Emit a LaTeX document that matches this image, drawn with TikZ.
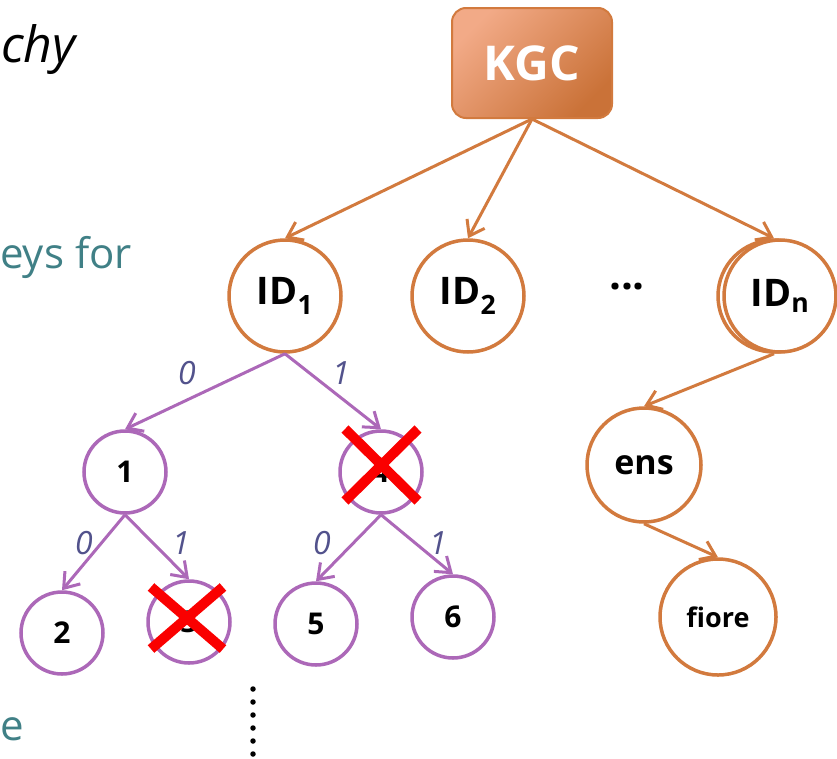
\documentclass[tikz,border=0pt]{standalone}
\usepackage{fontspec}
\setmainfont{Open Sans}
\usetikzlibrary{arrows.meta,calc}
\definecolor{orng}{RGB}{210,122,62}
\definecolor{kgcA}{RGB}{242,170,135}
\definecolor{kgcB}{RGB}{202,114,56}
\definecolor{purp}{RGB}{172,104,184}
\definecolor{lbl}{RGB}{82,82,140}
\definecolor{teal}{RGB}{64,128,134}
\definecolor{xred}{RGB}{250,0,0}
\tikzset{
  ocirc/.style={circle, draw=orng, line width=3.5pt, fill=white, inner sep=0pt, font=\bfseries},
  pcirc/.style={circle, draw=purp, line width=3.5pt, fill=white, inner sep=0pt, minimum size=82pt, font=\bfseries\fontsize{30}{30}\selectfont},
  oarr/.style={draw=orng, line width=3pt, -{Straight Barb[length=14pt,width=20pt,line width=3pt]}},
  parr/.style={draw=purp, line width=3pt, -{Straight Barb[length=14pt,width=20pt,line width=3pt]}},
  elbl/.style={text=lbl, font=\itshape\fontsize{32}{32}\selectfont},
  side/.style={text=teal, font=\fontsize{42}{42}\selectfont, anchor=base west, inner sep=0pt},
  crossx/.style={draw=xred, line width=10pt}
}
\begin{document}
\begin{tikzpicture}[x=1pt,y=-1pt]
\useasboundingbox (0,0) rectangle (837,758);
% side texts
\node[font=\itshape\fontsize{50}{50}\selectfont, anchor=base west, inner sep=0pt] (t1) at (1,62) {chy};
\node[side] (t2) at (0,268) {eys for};
\node[side] (t3) at (0,740) {e};
% KGC
\node[rounded corners=14pt, draw=orng, line width=2pt, left color=kgcA, right color=kgcB, shading angle=45,
      minimum width=160pt, minimum height=110pt, text=white, font=\bfseries\fontsize{48}{48}\selectfont] (kgc) at (532,63) {KGC};
% ID nodes
\node[ocirc, minimum size=112pt, font=\bfseries\fontsize{38}{38}\selectfont] (id1) at (285,296) {ID\textsubscript{1}};
\node[ocirc, minimum size=112pt, font=\bfseries\fontsize{38}{38}\selectfont] (id2) at (468,296) {ID\textsubscript{2}};
\node[ocirc, minimum size=112pt] (idnb) at (774,296) {};
\node[ocirc, minimum size=112pt, font=\bfseries\fontsize{38}{38}\selectfont] (idn) at (780,296) {ID\textsubscript{n}};
\node[font=\bfseries\fontsize{42}{42}\selectfont] (dots) at (627,287) {...};
\node[ocirc, minimum size=114pt, font=\bfseries\fontsize{34}{34}\selectfont] (ens) at (644,465) {ens};
\node[ocirc, minimum size=116pt, font=\bfseries\fontsize{27}{27}\selectfont] (fiore) at (718,617) {fiore};
% purple tree
\node[pcirc] (n1) at (125,472) {1};
\node[pcirc] (n4) at (381,472) {4};
\node[pcirc] (n2) at (62,633) {2};
\node[pcirc] (n3) at (189,622) {3};
\node[pcirc] (n5) at (316,624) {5};
\node[pcirc] (n6) at (453,617) {6};
% orange arrows
\draw[oarr] (kgc.south) -- (id1.north);
\draw[oarr] (kgc.south) -- (id2.north);
\draw[oarr] (kgc.south) -- (idnb.north);
\draw[oarr] (idnb.south) -- (ens.north);
\draw[oarr] (ens.south) -- (fiore.north);
% purple arrows
\draw[parr] (id1.south) -- (n1.north);
\draw[parr] (id1.south) -- (n4.north);
\draw[parr] (n1.south) -- (n2.north);
\draw[parr] (n1.south) -- (n3.north);
\draw[parr] (n4.south) -- (n5.north);
\draw[parr] (n4.south) -- (n6.north);
% edge labels
\node[elbl] (l0a) at (187,373) {0};
\node[elbl] (l1a) at (341,373) {1};
\node[elbl] (l0b) at (84,543) {0};
\node[elbl] (l1b) at (181,543) {1};
\node[elbl] (l0c) at (322,543) {0};
\node[elbl] (l1c) at (438,543) {1};
% red crosses
\draw[crossx] (345,429) -- (418,501);
\draw[crossx] (418,429) -- (345,501);
\draw[crossx] (151,587) -- (223,649);
\draw[crossx] (223,587) -- (151,649);
% vertical dots
\draw[line width=5.5pt, line cap=round, dash pattern=on 0pt off 13pt] (253,689) -- (253,756);
\end{tikzpicture}
\end{document}
